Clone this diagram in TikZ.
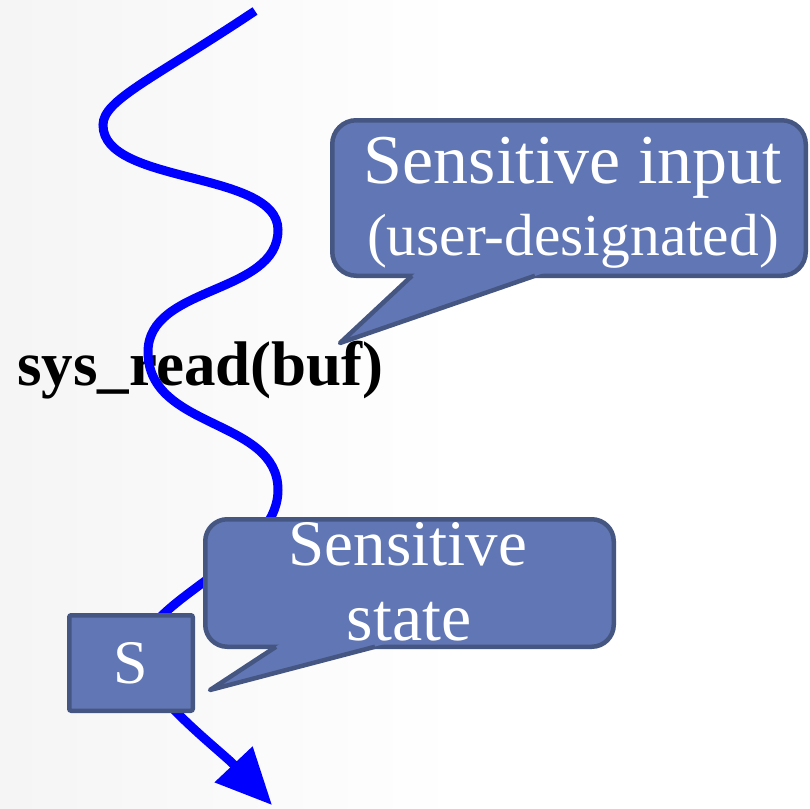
\documentclass[tikz,border=0pt]{standalone}
\usepackage{fontspec}
\setmainfont{Liberation Serif}
\usetikzlibrary{arrows.meta}

\definecolor{calloutblue}{RGB}{97,118,180}
\definecolor{calloutedge}{RGB}{70,86,130}

\begin{document}
\begin{tikzpicture}[
    x=1pt, y=-1pt,
    bubble/.style={rectangle, rounded corners=24pt, draw=calloutedge, fill=calloutblue, line width=4.5pt, inner sep=0pt},
    tail/.style={draw=calloutedge, line width=4.5pt, line join=round},
    btext/.style={text=white, inner sep=0pt, anchor=base},
    wave/.style={draw=blue, line width=9pt, -{Triangle[length=56pt,width=50pt]}}
]

% page background
\fill[white] (0,0) rectangle (810,808);
\shade[left color=black!4, right color=white] (0,0) rectangle (460,808);
\useasboundingbox (0,0) rectangle (810,808);

% system call label
\node[inner sep=0pt, anchor=base west, font=\fontsize{63}{70}\selectfont\bfseries] (sysread) at (17,385) {sys\_read(buf)};

% execution path
\draw[wave] (255,11) .. controls (153,79) and (103,100) .. (103,125)
    .. controls (103,185) and (278,170) .. (278,230)
    .. controls (278,295) and (148,285) .. (148,352)
    .. controls (148,430) and (278,418) .. (278,490)
    .. controls (278,560) and (140,600) .. (140,655)
    .. controls (140,690) and (220,750) .. (272,805);

% callout for the input buffer
\node[bubble, minimum width=473.5pt, minimum height=155.5pt] (inbody) at (569,198) {};
\coordinate (intip) at (340,343);
\fill[calloutblue] (418.4,270) -- (intip) -- (552.5,270) -- cycle;
\draw[tail] (412,275.75) -- (intip) -- (535,275.75);
\node[btext, font=\fontsize{70}{80}\selectfont] (intop) at (573,183) {Sensitive input};
\node[btext, font=\fontsize{59.5}{70}\selectfont] (inbottom) at (573,255) {(user-designated)};

% callout for the state
\node[bubble, rounded corners=22pt, minimum width=408.5pt, minimum height=127.5pt] (stbody) at (409.5,583) {};
\coordinate (sttip) at (210,690);
\fill[calloutblue] (284.3,641) -- (sttip) -- (395.9,641) -- cycle;
\draw[tail] (276,646.75) -- (sttip) -- (375,646.75);
\node[btext, font=\fontsize{65}{75}\selectfont] (sttop) at (408,565) {Sensitive};
\node[btext, font=\fontsize{68}{75}\selectfont] (stbottom) at (409,640) {state};

% state box on the path
\node[bubble, rounded corners=2pt, minimum width=123.5pt, minimum height=95.5pt,
      text=white, font=\fontsize{62}{62}\selectfont] (sbox) at (131,663) {S};

\end{tikzpicture}
\end{document}
